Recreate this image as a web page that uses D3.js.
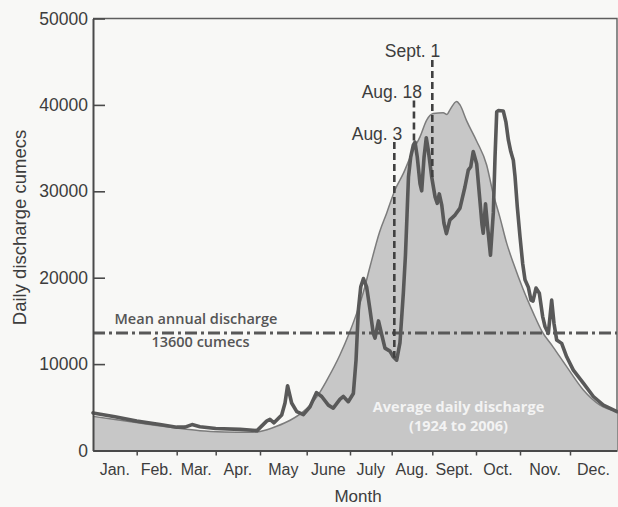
<!DOCTYPE html>
<html>
<head>
<meta charset="utf-8">
<script src="https://cdn.jsdelivr.net/npm/d3@7"></script>
<style>
  html, body { margin: 0; padding: 0; background: #f8f8f6; }
  svg { display: block; }
</style>
</head>
<body>
<svg id="chart" width="618" height="507"></svg>
<script>
// Month boundaries (day of year, Jan 1 = 0) and month labels
const monthStarts = [0, 31, 59, 90, 120, 151, 181, 212, 243, 273, 304, 334, 365];
const monthNames = ["Jan.", "Feb.", "Mar.", "Apr.", "May", "June", "July", "Aug.", "Sept.", "Oct.", "Nov.", "Dec."];
const yTicks = [0, 10000, 20000, 30000, 40000, 50000];

// Mean annual discharge (cumecs)
const meanAnnual = 13600;

// Average daily discharge 1924-2006: [day of year, cumecs]
const averageDaily = [
  [0, 3950], [15.6, 3600], [31, 3240], [45, 2900], [59, 2600], [77.5, 2300], [96, 2150],
  [113, 2100], [120, 2200], [131, 2800], [140, 3500], [151, 4850], [158, 6200], [165, 8150],
  [174, 11050], [181, 13800], [186, 15900], [190.7, 18200], [196, 21350], [203, 25300],
  [208.3, 27500], [214.5, 30150], [221, 32100], [228.5, 34800], [233.6, 36300], [238.7, 38250],
  [243.7, 39000], [250.5, 39100], [253.1, 38900], [255, 39400], [259.7, 40400], [262, 40000],
  [266.6, 38150], [273.5, 35800], [280.5, 33050], [285, 29800], [290, 26900], [294.6, 24000],
  [299.3, 21700], [306, 18600], [312, 15900], [317, 13850], [323.8, 12000], [332, 9700],
  [342.8, 7000], [353.8, 5250], [365, 4500]
];

// Observed daily discharge for the year: [day of year, cumecs]
const observed = [
  [0, 4350], [15.6, 3900], [31, 3400], [47.3, 3000], [59, 2700], [65.6, 2700], [71.2, 3000],
  [77.5, 2750], [90, 2550], [106.5, 2450], [118, 2300], [124.4, 3400], [126.6, 3600], [129.3, 3200],
  [134.4, 4100], [136.6, 5500], [138.3, 7500], [141, 5500], [144.4, 4500], [148.8, 4150],
  [153.3, 5050], [157.8, 6700], [161.4, 6250], [166, 5250], [169.4, 4900], [174.1, 5950],
  [176.4, 6250], [179.8, 5650], [183.5, 6600], [185.5, 10500], [187.2, 16250], [189, 18950],
  [191, 19900], [193.4, 18900], [195.9, 16250], [198.3, 13550], [199.6, 13000], [202.2, 15000],
  [204.6, 13400], [207, 11850], [210.7, 11500], [213.2, 10850], [215.8, 10450], [218.3, 12450],
  [220.9, 18250], [222.5, 22600], [223.7, 27250], [224.8, 31650], [226.5, 33950], [228.5, 35350],
  [229.8, 35700], [231.5, 34000], [233.6, 30900], [234.9, 30050], [236.7, 33950], [238.4, 36200],
  [239.9, 34800], [242.5, 31700], [244.9, 29350], [246.4, 28600], [247.8, 29700], [249.5, 28400],
  [251, 26300], [252.7, 25100], [255.1, 26700], [258.6, 27250], [262, 28050], [265.4, 30500],
  [267.7, 32450], [269.4, 32850], [271.1, 34600], [273.5, 33150], [275.5, 29400], [277.2, 26200],
  [278.1, 25150], [279.7, 28550], [281.1, 26000], [283.2, 22600], [285.2, 27500], [286.4, 33950],
  [287.6, 39200], [288.7, 39350], [292.2, 39300], [294.1, 38000], [295.8, 35950], [297.5, 34600],
  [299.3, 33600], [300.5, 31700], [302.1, 28200], [304, 24750], [305.6, 21650], [307, 19750],
  [309, 18900], [310.6, 17400], [311.8, 17300], [313.6, 18800], [315.6, 18200], [317.6, 15500],
  [319, 14350], [321, 13550], [323, 17400], [324.4, 14700], [326, 12800], [329, 12400],
  [332, 10850], [336.2, 9300], [342.8, 7800], [349.4, 6250], [356, 5250], [365, 4500]
];

// Dated markers: day of year and the height (cumecs) where each label sits
const markerLabels = ["Aug. 3", "Aug. 18", "Sept. 1"];
const markerDays = [214, 229, 243];
const markerTops = [35700, 40500, 45200];

// ---- layout ----
const svg = d3.select("#chart");
const plotLeft = 93, plotRight = 617, plotTop = 18.5, plotBottom = 450.5;
// The printed month axis is hand-spaced; tick offsets (px) from the left edge
const monthTickOffsets = [0, 43.7, 83.7, 122.7, 167, 213.7, 257, 298.7, 339.3, 383, 427, 477, 524];

const x = d3.scaleLinear()
  .domain(monthStarts)
  .range(monthTickOffsets.map(o => plotLeft + o));
const y = d3.scaleLinear().domain([0, 50000]).range([plotBottom, plotTop]);

const ink = "#3d3d3d";
const sans = "'Liberation Sans', Arial, Helvetica, sans-serif";
const humanist = "'Open Sans', 'Noto Sans', sans-serif";

// frame (top and right edges)
svg.append("path")
  .attr("d", `M${plotLeft},${plotTop}H${plotRight}V${plotBottom}`)
  .attr("fill", "none").attr("stroke", "#5e5e5e").attr("stroke-width", 1.4);

// average daily discharge, shaded area with a thin outline
const area = d3.area()
  .x(d => x(d[0])).y0(y(0)).y1(d => y(d[1]))
  .curve(d3.curveMonotoneX);
const avgLine = d3.line()
  .x(d => x(d[0])).y(d => y(d[1]))
  .curve(d3.curveMonotoneX);

svg.append("path").datum(averageDaily)
  .attr("d", area).attr("fill", "#c7c7c7");
svg.append("path").datum(averageDaily)
  .attr("d", avgLine).attr("fill", "none")
  .attr("stroke", "#7c7c7c").attr("stroke-width", 1.5);

// mean annual discharge
svg.append("line")
  .attr("x1", x(0)).attr("x2", x(365))
  .attr("y1", y(meanAnnual)).attr("y2", y(meanAnnual))
  .attr("stroke", "#585858").attr("stroke-width", 3)
  .attr("stroke-dasharray", "12,4,3,4");

// observed discharge
const obsLine = d3.line()
  .x(d => x(d[0])).y(d => y(d[1]));
svg.append("path").datum(observed)
  .attr("d", obsLine).attr("fill", "none")
  .attr("stroke", "#595959").attr("stroke-width", 3.6)
  .attr("stroke-linejoin", "round").attr("stroke-linecap", "round");

// value of the observed series at a given day (linear between points)
function observedAt(day) {
  const i = d3.bisector(d => d[0]).left(observed, day);
  if (i <= 0) return observed[0][1];
  const a = observed[i - 1], b = observed[i];
  const t = (day - a[0]) / (b[0] - a[0]);
  return a[1] + t * (b[1] - a[1]);
}

// dated marker lines and labels
markerDays.forEach((day, i) => {
  svg.append("line")
    .attr("x1", x(day)).attr("x2", x(day))
    .attr("y1", y(markerTops[i])).attr("y2", y(observedAt(day)))
    .attr("stroke", "#404040").attr("stroke-width", 2.6)
    .attr("stroke-dasharray", "7,4");
  svg.append("text")
    .attr("x", x(day) + 8).attr("y", y(markerTops[i]) - 2.5)
    .attr("text-anchor", "end")
    .attr("font-family", sans).attr("font-size", 17.5).attr("fill", ink)
    .text(markerLabels[i]);
});

// y axis with inward ticks
const yAxis = svg.append("g")
  .attr("transform", `translate(${plotLeft},0)`)
  .call(d3.axisLeft(y).tickValues(yTicks).tickFormat(d3.format("d"))
    .tickSizeInner(-12).tickSizeOuter(0).tickPadding(5));
yAxis.select(".domain").attr("stroke", "#4a4a4a").attr("stroke-width", 2);
yAxis.selectAll(".tick line").attr("stroke", "#4a4a4a").attr("stroke-width", 1.6);
yAxis.selectAll(".tick text")
  .attr("font-family", sans).attr("font-size", 17.5).attr("fill", ink);

// x axis: month boundary ticks
const xAxis = svg.append("g")
  .attr("transform", `translate(0,${plotBottom})`)
  .call(d3.axisBottom(x).tickValues(monthStarts.slice(1, -1)).tickFormat("")
    .tickSizeInner(5).tickSizeOuter(0));
xAxis.select(".domain").attr("stroke", "#4a4a4a").attr("stroke-width", 2);
xAxis.selectAll(".tick line").attr("stroke", "#4a4a4a").attr("stroke-width", 1.5);

// month names centred in each month
svg.append("g").selectAll("text")
  .data(monthNames)
  .join("text")
  .attr("x", (d, i) => x((monthStarts[i] + monthStarts[i + 1]) / 2))
  .attr("y", plotBottom + 24.5)
  .attr("text-anchor", "middle")
  .attr("font-family", sans).attr("font-size", 16).attr("fill", ink)
  .text(d => d);

// axis titles
svg.append("text")
  .attr("x", 358).attr("y", 502)
  .attr("text-anchor", "middle")
  .attr("font-family", sans).attr("font-size", 17).attr("fill", ink)
  .text("Month");
svg.append("text")
  .attr("transform", "translate(26,227.5) rotate(-90)")
  .attr("text-anchor", "middle")
  .attr("font-family", sans).attr("font-size", 18.5).attr("fill", ink)
  .text("Daily discharge cumecs");

// mean annual discharge label
const meanY = y(meanAnnual);
[["Mean annual discharge", -8.5, 196], ["13600 cumecs", 14, 200.5]].forEach(([t, dy, cx]) => {
  svg.append("text")
    .attr("x", cx).attr("y", meanY + dy)
    .attr("text-anchor", "middle")
    .attr("font-family", humanist).attr("font-weight", 600)
    .attr("font-size", 14.5).attr("fill", "#555")
    .text(t);
});

// label inside the shaded area
[["Average daily discharge", 4500], ["(1924 to 2006)", 2200]].forEach(([t, v]) => {
  svg.append("text")
    .attr("x", x(261)).attr("y", y(v))
    .attr("text-anchor", "middle")
    .attr("font-family", humanist).attr("font-weight", 700)
    .attr("font-size", 14.5).attr("fill", "#f3f3f3")
    .text(t);
});
</script>
</body>
</html>
